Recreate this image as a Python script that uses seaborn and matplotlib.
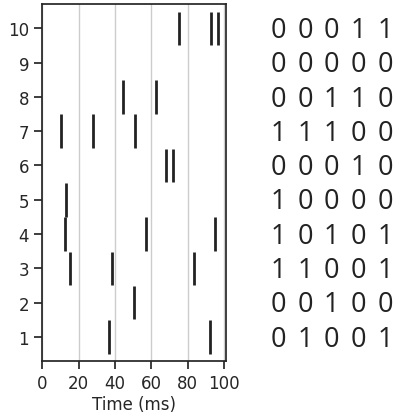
import matplotlib
matplotlib.use("Agg")
import matplotlib.pyplot as plt
import seaborn as sns
import numpy as np

# spike times (ms) for trials 1..10
trials = [1, 2, 3, 4, 5, 6, 7, 8, 9, 10]
spike_times = [
    [36.5, 92.1],
    [50.2],
    [15.2, 38.1, 83.3],
    [12.2, 57.0, 95.0],
    [12.8],
    [68.0, 72.1],
    [10.2, 27.8, 51.1],
    [44.2, 62.5],
    [],
    [75.4, 92.7, 96.7],
]
bin_edges = [0, 20, 40, 60, 80, 100]

sns.set_theme(style="ticks", context="notebook")

fig = plt.figure(figsize=(3.93, 4.14), dpi=100)
ax = fig.add_axes([0.108, 0.126, 0.467, 0.861])
ax.eventplot(spike_times, lineoffsets=trials, linelengths=0.98,
             linewidths=2, colors="#222222")
ax.set_xlim(0, 101)
ax.set_ylim(0.3, 10.7)
ax.set_xticks([0, 20, 40, 60, 80, 100])
ax.set_yticks(trials)
ax.xaxis.grid(True, color="#cccccc", linewidth=1)
ax.set_axisbelow(True)
ax.set_xlabel("Time (ms)", fontsize=12, labelpad=2)
ax.tick_params(labelsize=12)

# binned spike counts shown as a matrix of digits
counts = np.array([np.histogram(s, bins=bin_edges)[0] for s in spike_times])
tx = fig.add_axes([0.66, 0.126, 0.34, 0.861])
tx.set_xlim(0, 1)
tx.set_ylim(0.3, 10.7)
tx.axis("off")
col_x = [0.142, 0.342, 0.542, 0.743, 0.945]
for i, t in enumerate(trials):
    for j, c in enumerate(counts[i]):
        tx.text(col_x[j], t - 0.05, str(min(c, 1)), ha="center", va="center",
                fontsize=19.5, family=["Open Sans", "DejaVu Sans"], color="#222222")

fig.savefig("out.png", dpi=100)
